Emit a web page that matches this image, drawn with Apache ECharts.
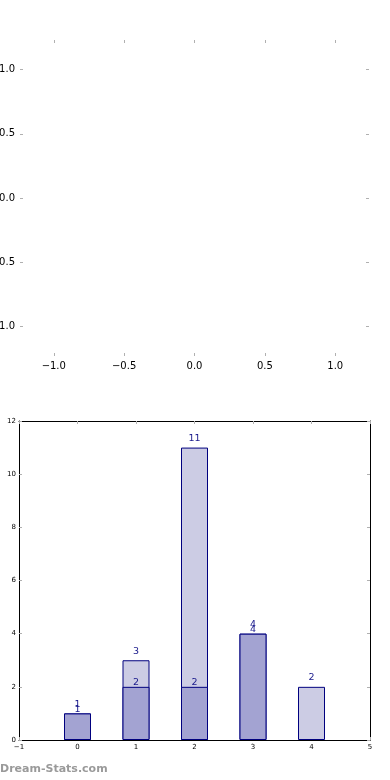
<!DOCTYPE html>
<html>
<head>
<meta charset="utf-8">
<script src="https://cdn.jsdelivr.net/npm/echarts@6/dist/echarts.min.js"></script>
<style>
html,body{margin:0;padding:0;background:#fff;}
#c{width:390px;height:780px;}
</style>
</head>
<body>
<div id="c"></div>
<script>
// Top (empty) axes tick values
var topTicks = [-1, -0.5, 0, 0.5, 1];
// Bottom bar chart data
var categories = [0, 1, 2, 3, 4];
var lightValues = [1, 3, 11, 4, 2];
var darkCategories = [0, 1, 2, 3];
var darkValues = [1, 2, 2, 4];
var xTickLabels = [-1, 0, 1, 2, 3, 4, 5];
var yTickLabels = [0, 2, 4, 6, 8, 10, 12];

var FONT = 'DejaVu Sans';
function mfmt1(v){ return (v < 0 ? '\u2212' : '') + Math.abs(v).toFixed(1); }
function mfmt0(v){ return (v < 0 ? '\u2212' : '') + Math.abs(v); }

var tickGrey = '#b0b0b0';

function topAxis(pos, gridIndex, showLabel, isX){
  return {
    type: 'value', gridIndex: gridIndex, position: pos,
    min: isX ? -1.24 : -1.23, max: isX ? 1.24 : 1.23,
    splitLine: {show: false},
    axisLine: {show: false, onZero: false},
    axisTick: {show: true, inside: true, length: 3, customValues: topTicks, lineStyle: {color: tickGrey, width: 1}},
    axisLabel: {show: showLabel, customValues: topTicks, formatter: mfmt1, color: '#000', fontFamily: FONT, fontSize: 10, margin: 5}
  };
}

function botAxis(pos, showLabel, isX){
  return {
    type: 'value', gridIndex: 1, position: pos,
    min: isX ? xTickLabels[0] : yTickLabels[0],
    max: isX ? xTickLabels[xTickLabels.length - 1] : yTickLabels[yTickLabels.length - 1],
    interval: isX ? 1 : 2,
    splitLine: {show: false},
    axisLine: {show: true, onZero: false, lineStyle: {color: '#000', width: 1}},
    axisTick: {show: true, inside: true, length: 3, lineStyle: {color: tickGrey, width: 1}},
    axisLabel: {show: showLabel, formatter: mfmt0, color: '#000', fontFamily: FONT, fontSize: 7, margin: isX ? 4 : 3}
  };
}

var chart = echarts.init(document.getElementById('c'), null, {renderer: 'canvas'});
chart.setOption({
  animation: false,
  backgroundColor: '#fff',
  grid: [
    {left: 20, right: 21, top: 40, height: 316, containLabel: false, outerBoundsMode: 'none'},
    {left: 19, right: 20, top: 421, height: 319, containLabel: false, outerBoundsMode: 'none'}
  ],
  xAxis: [
    topAxis('bottom', 0, true, true),
    topAxis('top', 0, false, true),
    botAxis('bottom', true, true),
    botAxis('top', false, true)
  ],
  yAxis: [
    topAxis('left', 0, true, false),
    topAxis('right', 0, false, false),
    botAxis('left', true, false),
    botAxis('right', false, false)
  ],
  series: [
    {
      type: 'bar', xAxisIndex: 2, yAxisIndex: 2,
      data: categories.map(function(c, i){ return [c, lightValues[i]]; }),
      barWidth: 27, barGap: '-100%',
      itemStyle: {color: '#ccccE4', borderColor: '#00007f', borderWidth: 1},
      label: {show: true, position: 'top', distance: 4, color: '#1a1a8c', fontFamily: FONT, fontSize: 9.5,
        formatter: function(p){ return p.value[1]; }}
    },
    {
      type: 'bar', xAxisIndex: 2, yAxisIndex: 2,
      data: darkCategories.map(function(c, i){ return [c, darkValues[i]]; }),
      barWidth: 27, barGap: '-100%',
      itemStyle: {color: '#a3a3d2', borderColor: '#00007f', borderWidth: 1},
      label: {show: true, position: 'top', distance: -1, color: '#1a1a8c', fontFamily: FONT, fontSize: 9.5,
        formatter: function(p){ return p.value[1]; }}
    }
  ],
  graphic: [
    {type: 'text', left: 0, top: 764, style: {text: 'Dream-Stats.com', fill: '#9a9a9a', font: 'bold 11px "DejaVu Sans"'}}
  ]
});
</script>
</body>
</html>
